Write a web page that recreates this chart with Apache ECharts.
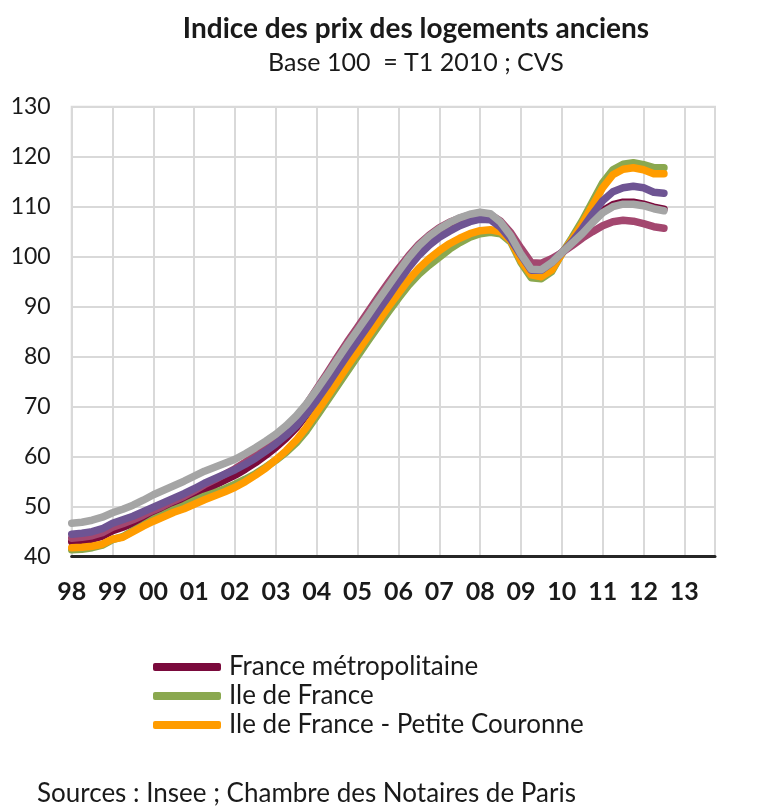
<!DOCTYPE html>
<html><head><meta charset="utf-8">
<script src="https://cdn.jsdelivr.net/npm/echarts@6/dist/echarts.min.js"></script>
<style>html,body{margin:0;padding:0;background:#fff}#c{width:762px;height:811px}</style>
</head><body><div id="c"></div>
<script>
const yearLabels = ['98','99','00','01','02','03','04','05','06','07','08','09','10','11','12','13'];
const quarterNames = ['T1','T2','T3','T4'];

const franceMetro = [43.0,43.2,43.5,44.1,45.2,45.9,46.7,47.6,48.6,49.5,50.4,51.3,52.3,53.4,54.3,55.3,56.3,57.5,58.8,60.3,61.9,63.7,65.8,68.4,71.3,74.4,77.6,80.7,83.7,86.7,89.8,92.8,95.8,98.6,101.1,103.1,104.7,105.9,106.9,107.6,108.1,108.0,106.6,104.2,101.0,98.0,97.9,99.2,100.8,102.7,104.8,107.0,109.2,110.4,110.9,110.9,110.5,109.9,109.5];
const ileDeFrance = [41.4,41.5,41.8,42.3,43.4,44.0,45.2,46.3,47.5,48.4,49.4,50.2,51.2,52.1,52.8,53.6,54.5,55.5,56.6,57.9,59.3,60.9,62.8,65.2,68.1,71.1,74.1,77.1,80.1,83.1,86.0,88.9,91.7,94.3,96.5,98.3,99.9,101.5,102.8,103.9,104.6,104.9,104.6,102.9,98.8,95.8,95.6,97.0,100.6,103.8,107.2,111.0,114.8,117.4,118.5,118.8,118.4,117.8,117.8];
const petiteCouronne = [41.8,41.9,42.1,42.5,43.5,43.9,45.0,46.1,47.1,48.0,48.9,49.6,50.5,51.4,52.2,53.0,53.9,55.0,56.3,57.7,59.4,61.2,63.3,65.9,68.9,71.9,75.0,78.1,81.0,84.0,87.0,89.9,92.7,95.4,97.7,99.6,101.2,102.6,103.7,104.6,105.2,105.4,105.0,103.2,99.2,96.4,96.0,97.3,100.6,103.4,106.6,110.2,113.8,116.4,117.5,117.8,117.4,116.6,116.6];
const serieViolette = [44.5,44.7,45.0,45.6,46.7,47.4,48.1,49.0,49.9,50.8,51.7,52.6,53.6,54.7,55.6,56.5,57.4,58.5,59.7,61.1,62.6,64.3,66.2,68.6,71.3,74.2,77.3,80.3,83.2,86.1,89.1,92.0,95.0,97.8,100.3,102.3,103.9,105.1,106.2,107.0,107.5,107.4,105.9,103.5,100.3,97.3,97.3,98.8,100.8,103.0,105.6,108.5,111.2,113.0,113.8,114.1,113.8,112.9,112.7];
const serieRose = [43.7,43.9,44.2,44.8,45.9,46.6,47.4,48.3,49.3,50.2,51.2,52.1,53.2,54.4,55.4,56.5,57.6,58.9,60.3,61.8,63.5,65.4,67.7,70.5,73.6,76.7,79.9,83.0,85.9,88.9,91.9,94.8,97.6,100.2,102.5,104.3,105.8,106.9,107.7,108.3,108.6,108.4,107.1,104.8,101.7,98.8,98.7,99.6,100.8,102.2,103.7,105.0,106.2,107.0,107.3,107.1,106.6,106.0,105.7];
const serieGrise = [46.7,46.9,47.3,47.9,48.8,49.5,50.3,51.3,52.4,53.3,54.2,55.1,56.1,57.1,57.9,58.7,59.5,60.6,61.8,63.1,64.5,66.2,68.2,70.6,73.4,76.3,79.4,82.4,85.3,88.2,91.2,94.1,97.0,99.8,102.2,104.1,105.6,106.8,107.8,108.5,108.9,108.6,106.9,104.2,100.5,97.5,97.4,98.8,100.8,102.7,104.6,106.8,108.8,110.0,110.5,110.5,110.2,109.6,109.2];

const quarters = [];
yearLabels.forEach(y => quarterNames.forEach(q => quarters.push(q + ' ' + y)));

const FONT = 'Lato';
const chart = echarts.init(document.getElementById('c'), null, {renderer: 'canvas'});

function lineSeries(name, data, color) {
  return {
    name: name, type: 'line', data: data, symbol: 'none', smooth: false,
    lineStyle: {width: 7.5, color: color, cap: 'round', join: 'round'},
    itemStyle: {color: color},
    emphasis: {disabled: true}, animation: false
  };
}

chart.setOption({
  animation: false,
  backgroundColor: '#ffffff',
  textStyle: {fontFamily: FONT},
  title: {
    text: 'Indice des prix des logements anciens',
    subtext: 'Base 100  = T1 2010 ; CVS',
    left: 411, top: 10, textAlign: 'center', itemGap: 7,
    textStyle: {fontFamily: FONT, fontWeight: 'bold', fontSize: 28, color: '#1a1a1a'},
    subtextStyle: {fontFamily: FONT, fontSize: 25, color: '#1a1a1a'}
  },
  grid: {
    left: 71.7, right: 47, top: 106.7, bottom: 254.3,
    show: true, borderColor: '#d9d9d9', borderWidth: 2, backgroundColor: 'transparent'
  },
  legend: {
    data: ['France métropolitaine', 'Ile de France', 'Ile de France - Petite Couronne'],
    orient: 'vertical', left: 148, top: 649,
    itemWidth: 68, itemHeight: 8, itemGap: 3, icon: 'roundRect',
    textStyle: {fontFamily: FONT, fontSize: 26, lineHeight: 26, color: '#1a1a1a', padding: [0, 0, 0, 3]},
    selectedMode: false
  },
  xAxis: {
    type: 'category', data: quarters, boundaryGap: false,
    axisLine: {show: true, lineStyle: {color: '#262626', width: 3}},
    axisTick: {show: false},
    axisLabel: {
      interval: 3, margin: 23, fontFamily: FONT, fontSize: 25, fontWeight: 'bold', color: '#1a1a1a',
      formatter: (v, i) => yearLabels[Math.floor(i / 4)]
    },
    splitLine: {show: true, interval: 3, lineStyle: {color: '#d9d9d9', width: 2}}
  },
  yAxis: {
    type: 'value', min: 40, max: 130, interval: 10,
    axisLine: {show: false}, axisTick: {show: false},
    axisLabel: {margin: 21, fontFamily: FONT, fontSize: 23, color: '#1a1a1a'},
    splitLine: {show: true, lineStyle: {color: '#d9d9d9', width: 2}}
  },
  series: [
    lineSeries('France métropolitaine', franceMetro, '#7a0a3c'),
    lineSeries('Ile de France', ileDeFrance, '#8aa84f'),
    lineSeries('Ile de France - Petite Couronne', petiteCouronne, '#ff9c00'),
    lineSeries('Série 5', serieRose, '#a3476f'),
    lineSeries('Série 4', serieViolette, '#6e5493'),
    lineSeries('Série 6', serieGrise, '#a5a5a5')
  ],
  graphic: [{
    type: 'text', left: 37, top: 781,
    style: {text: 'Sources : Insee ; Chambre des Notaires de Paris', fontFamily: FONT, fontSize: 26, fill: '#1a1a1a'}
  }]
});
</script></body></html>
